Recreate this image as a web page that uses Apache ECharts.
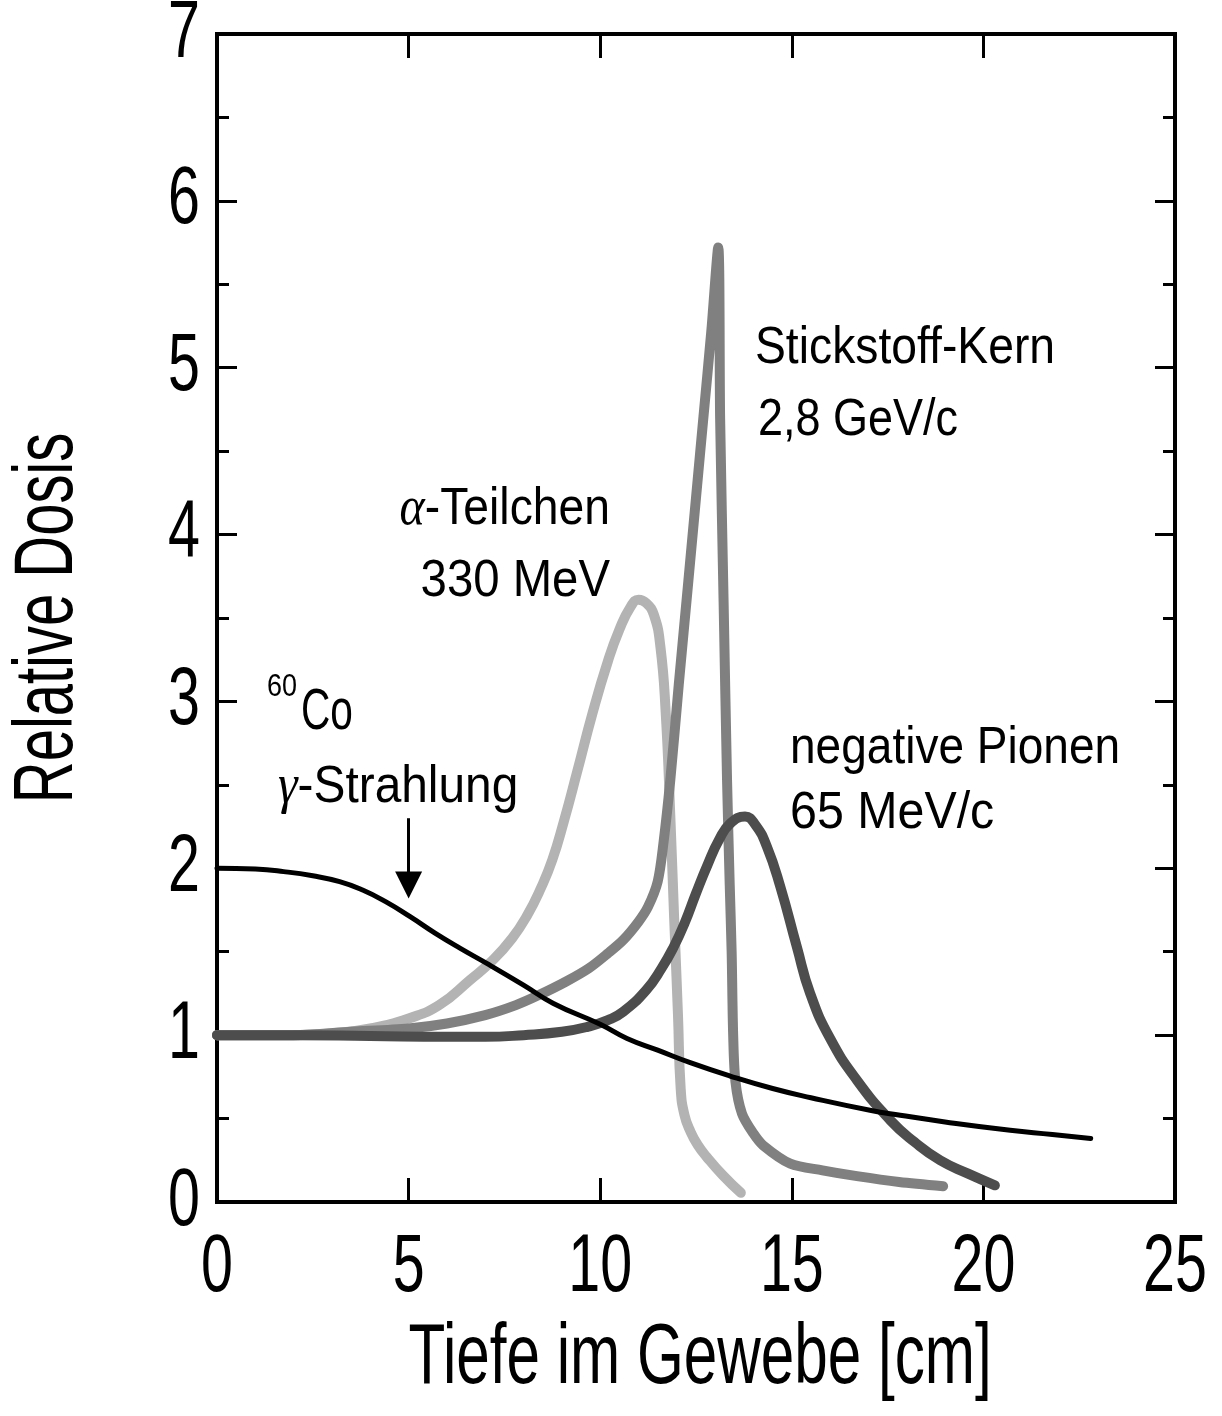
<!DOCTYPE html>
<html>
<head>
<meta charset="utf-8">
<script src="https://cdn.jsdelivr.net/npm/echarts@6/dist/echarts.min.js"></script>
<style>
  html, body { margin: 0; padding: 0; background: #fff; }
  #chart { width: 1222px; height: 1416px; }
</style>
</head>
<body>
<div id="chart"></div>
<script>
// Tick values
const xTicks = [0, 5, 10, 15, 20, 25];
const yTicks = [0, 1, 2, 3, 4, 5, 6, 7];

// Depth-dose curves: [depth in cm, relative dose]
const cobaltGamma = [
  [0, 2.0], [1, 1.995], [1.74, 1.98], [2.5, 1.955], [3.2, 1.92], [3.8, 1.87],
  [4.4, 1.8], [5.04, 1.71], [5.7, 1.61], [6.35, 1.52], [7.04, 1.43], [8.0, 1.3],
  [8.78, 1.19], [10.0, 1.065], [10.7, 0.98], [11.5, 0.91], [12.35, 0.835],
  [13.39, 0.755], [14.5, 0.68], [15.5, 0.625], [17.04, 0.55], [17.83, 0.52],
  [19.0, 0.48], [20.7, 0.43], [21.8, 0.405], [22.8, 0.38]
];
const alphaParticles = [
  [0, 1.0], [1, 1.0], [2, 1.0], [3, 1.01], [4, 1.04], [5, 1.1], [5.8, 1.18],
  [6.6, 1.33], [7.2, 1.45], [7.7, 1.58], [8.1, 1.72], [8.45, 1.88], [8.75, 2.05],
  [9.05, 2.28], [9.4, 2.58], [9.8, 2.93], [10.2, 3.24], [10.5, 3.43], [10.8, 3.57],
  [11.0, 3.61], [11.2, 3.59], [11.4, 3.52], [11.57, 3.33], [11.71, 2.93], [11.83, 2.31],
  [11.93, 1.7], [12.03, 1.12], [12.1, 0.68], [12.2, 0.52], [12.36, 0.42],
  [12.55, 0.34], [12.78, 0.27], [13.2, 0.16], [13.67, 0.055]
];
const nitrogenNuclei = [
  [0, 1.0], [2, 1.0], [3.5, 1.02], [5, 1.04], [6, 1.07], [7, 1.12], [7.8, 1.18],
  [8.4, 1.24], [9.1, 1.32], [9.7, 1.4], [10.2, 1.49], [10.6, 1.57], [11.0, 1.68],
  [11.25, 1.77], [11.5, 1.92], [11.65, 2.15], [11.83, 2.53], [12.05, 3.1],
  [12.3, 3.72], [12.5, 4.22], [12.7, 4.72], [12.9, 5.22], [13.08, 5.72],
  [13.13, 4.69], [13.22, 3.6], [13.31, 2.53], [13.38, 1.9], [13.43, 1.5],
  [13.47, 1.0], [13.53, 0.72], [13.7, 0.53], [14.0, 0.41], [14.25, 0.34],
  [14.96, 0.23], [15.8, 0.19], [16.7, 0.155], [17.8, 0.12], [18.95, 0.095]
];
const negativePions = [
  [0, 1.0], [2, 1.0], [4, 0.995], [6, 0.99], [7, 0.99], [8, 1.0], [9, 1.02],
  [9.67, 1.05], [10.2, 1.09], [10.6, 1.14], [11.2, 1.27], [11.6, 1.4],
  [11.92, 1.53], [12.2, 1.67], [12.5, 1.85], [12.8, 2.02], [13.1, 2.17],
  [13.4, 2.27], [13.78, 2.31], [14.05, 2.26], [14.35, 2.13], [14.7, 1.89],
  [15.13, 1.53], [15.48, 1.25], [16.0, 0.98], [16.7, 0.73], [17.57, 0.49],
  [18.2, 0.36], [18.87, 0.25], [19.6, 0.17], [20.3, 0.1]
];

const sans = "'Liberation Sans', Arial, sans-serif";
const greek = "'Liberation Serif', 'DejaVu Serif', serif";

const chart = echarts.init(document.getElementById('chart'), null, { renderer: 'canvas' });

function tickAxis(extra) {
  return Object.assign({
    type: 'value',
    axisLine: { show: false, onZero: false },
    axisTick: { show: true, inside: true, lineStyle: { color: '#000', width: 3 } },
    splitLine: { show: false },
    axisLabel: { show: false }
  }, extra);
}

function curve(name, data, color, width, z, smooth) {
  return {
    name, type: 'line', data, z,
    showSymbol: false, symbol: 'none',
    smooth,
    lineStyle: { color, width, cap: 'round', join: 'round' },
    animation: false,
    silent: true
  };
}

// The gamma curve sits on the top/right axis pair (same ranges) so that
// those frame axes carry data and draw their inner ticks.
const gammaSeries = curve('60Co', cobaltGamma, '#000', 5, 6, 0.5);
gammaSeries.xAxisIndex = 1;
gammaSeries.yAxisIndex = 1;
gammaSeries.markLine = {
  silent: true,
  animation: false,
  symbol: ['none', 'triangle'],
  symbolSize: 27,
  label: { show: false },
  lineStyle: { color: '#000', width: 3, type: 'solid' },
  data: [[{ coord: [5, 2.30] }, { coord: [5, 1.90] }]]
};

const xTickAxis = { min: 0, max: 25, interval: 5,
  axisTick: { show: true, inside: true, length: 24, lineStyle: { color: '#000', width: 3 } } };
const yTickAxis = { min: 0, max: 7, interval: 1,
  axisTick: { show: true, inside: true, length: 20, lineStyle: { color: '#000', width: 3 } },
  minorTick: { show: true, splitNumber: 2, length: 12, lineStyle: { color: '#000', width: 3 } } };

chart.setOption({
  animation: false,
  backgroundColor: '#fff',
  grid: {
    left: 217, right: 47, top: 34, bottom: 214,
    show: true, borderColor: '#000', borderWidth: 4
  },
  xAxis: [
    tickAxis(Object.assign({ position: 'bottom' }, xTickAxis)),
    tickAxis(Object.assign({ position: 'top' }, xTickAxis))
  ],
  yAxis: [
    tickAxis(Object.assign({ position: 'left' }, yTickAxis)),
    tickAxis(Object.assign({ position: 'right' }, yTickAxis))
  ],
  series: [
    curve('alpha', alphaParticles, '#b3b3b3', 10, 2, 0.5),
    curve('nitrogen', nitrogenNuclei, '#808080', 10, 3, 0.3),
    curve('pions', negativePions, '#4d4d4d', 10, 4, 0.5),
    gammaSeries
  ]
});

// Condensed lettering: regular sans squeezed horizontally
function label(text, x, y, size, squeeze, align, extra) {
  return {
    type: 'text', x, y, scaleX: squeeze, scaleY: 1, silent: true,
    style: Object.assign({ text, fontFamily: sans, fontSize: size, fill: '#000',
      align: align || 'left', verticalAlign: 'top' }, extra || {})
  };
}

const greekRich = { g: { fontFamily: greek, fontStyle: 'italic', fontSize: 54, fill: '#000' } };

const xBase = chart.convertToPixel({ yAxisIndex: 0 }, 0);
const yBase = chart.convertToPixel({ xAxisIndex: 0 }, 0);
const graphics = [];

xTicks.forEach(v => {
  graphics.push(label(String(v), chart.convertToPixel({ xAxisIndex: 0 }, v), xBase + 25, 82, 0.7, 'center'));
});
yTicks.forEach(v => {
  const g = label(String(v), yBase - 17, chart.convertToPixel({ yAxisIndex: 0 }, v), 82, 0.7, 'right');
  g.style.verticalAlign = 'middle';
  graphics.push(g);
});

// Axis titles
const xMid = (chart.convertToPixel({ xAxisIndex: 0 }, 0) + chart.convertToPixel({ xAxisIndex: 0 }, 25)) / 2;
const yMid = (chart.convertToPixel({ yAxisIndex: 0 }, 0) + chart.convertToPixel({ yAxisIndex: 0 }, 7)) / 2;
graphics.push(label('Tiefe im Gewebe [cm]', xMid + 4, 1316, 86, 0.7, 'center'));
const yTitle = label('Relative Dosis', 49, yMid, 84, 0.69, 'center');
yTitle.style.verticalAlign = 'middle';
yTitle.rotation = Math.PI / 2;
graphics.push(yTitle);

// Curve annotations
graphics.push(label('Stickstoff-Kern', 755, 323, 52, 0.89));
graphics.push(label('2,8 GeV/c', 758, 395, 52, 0.865));
graphics.push(label('{g|α}-Teilchen', 610, 483, 52, 0.89, 'right', { rich: greekRich }));
graphics.push(label('330 MeV', 610, 556, 52, 0.91, 'right'));
graphics.push(label('60', 267, 672, 31, 0.87));
graphics.push(label('Co', 301, 684, 58, 0.7));
graphics.push(label('{g|γ}-Strahlung', 278, 761, 52, 0.92, 'left', { rich: greekRich }));
graphics.push(label('negative Pionen', 790, 723, 52, 0.885));
graphics.push(label('65 MeV/c', 790, 788, 52, 0.93));

chart.setOption({ graphic: graphics });
</script>
</body>
</html>
